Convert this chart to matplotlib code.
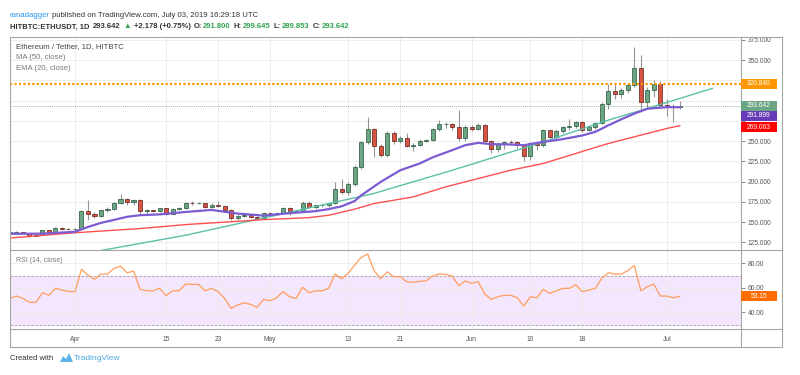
import numpy as np
import pandas as pd
import matplotlib
matplotlib.use("Agg")
import matplotlib.pyplot as plt
import matplotlib.dates as mdates
from matplotlib.patches import Rectangle, Polygon
from matplotlib.lines import Line2D

plt.rcParams['font.family'] = ['Liberation Sans', 'DejaVu Sans']

# daily candles ETH/USDT (HitBTC), 2019-03-22 .. 2019-07-03
dates = pd.date_range('2019-03-22', '2019-07-03', freq='D')

opens = [137.0, 136.5, 137.6, 136.4, 133.0, 134.1, 139.6, 138.0, 143.1, 141.8,
         141.0, 141.6, 163.5, 159.6, 157.4, 164.6, 166.0, 174.0, 179.0, 174.2,
         177.0, 163.8, 164.4, 163.6, 167.2, 160.5, 166.2, 166.8, 174.0, 173.2,
         173.6, 168.2, 171.0, 170.2, 165.2, 155.0, 158.0, 158.4, 156.6, 155.2,
         161.6, 160.6, 161.8, 167.7, 163.2, 163.8, 173.4, 168.8, 170.6, 170.9,
         173.2, 191.0, 187.2, 196.8, 218.2, 248.4, 264.5, 244.0, 232.8, 260.0,
         250.2, 254.4, 244.2, 245.2, 250.2, 251.6, 264.6, 271.2, 271.6, 268.0,
         254.4, 268.0, 264.4, 270.2, 250.4, 240.8, 247.0, 249.0, 248.6, 244.8,
         231.6, 247.2, 244.8, 263.2, 255.2, 263.0, 267.8, 268.4, 273.6, 263.8,
         268.0, 272.0, 296.2, 311.6, 308.8, 313.4, 319.2, 340.0, 298.6, 313.4,
         320.4, 294.8, 292.8, 291.8]
highs = [138.5, 138.5, 138.2, 137.0, 134.8, 140.5, 140.4, 143.8, 144.5, 142.3,
         142.8, 164.8, 177.0, 162.0, 165.5, 168.5, 175.0, 185.0, 179.8, 178.5,
         178.0, 166.0, 165.5, 167.8, 168.0, 167.0, 168.5, 175.0, 175.5, 175.0,
         174.0, 173.0, 176.5, 171.0, 166.5, 159.5, 159.5, 159.0, 158.0, 162.5,
         162.5, 163.0, 169.0, 168.5, 165.5, 176.0, 175.5, 171.5, 172.0, 174.0,
         200.0, 203.0, 199.0, 220.5, 250.0, 280.0, 266.0, 246.5, 263.0, 262.0,
         256.5, 260.0, 247.5, 252.5, 253.0, 266.0, 276.0, 274.0, 273.0, 288.0,
         270.0, 270.5, 272.5, 271.0, 251.0, 248.5, 250.5, 252.0, 250.0, 246.0,
         248.5, 249.0, 264.5, 264.0, 264.5, 269.0, 277.5, 275.5, 275.0, 270.0,
         273.5, 298.0, 320.5, 322.0, 315.5, 321.0, 366.7, 356.8, 316.5, 326.0,
         324.5, 302.5, 295.8, 299.645]
lows = [135.5, 135.8, 135.9, 131.8, 132.2, 133.5, 137.2, 137.4, 140.8, 140.2,
        139.8, 141.0, 153.0, 154.5, 156.8, 163.0, 165.2, 172.0, 171.5, 171.0,
        160.5, 160.2, 162.5, 162.0, 159.0, 159.8, 164.5, 166.0, 171.5, 171.8,
        167.0, 167.5, 169.0, 164.0, 152.5, 152.0, 156.5, 155.5, 153.8, 154.8,
        159.5, 159.8, 160.5, 159.0, 162.0, 163.0, 167.0, 166.0, 169.0, 168.5,
        172.0, 185.0, 184.0, 194.0, 215.5, 246.0, 231.0, 230.5, 231.0, 246.0,
        248.0, 243.0, 238.0, 243.5, 248.5, 250.5, 263.0, 266.5, 264.0, 250.0,
        250.5, 262.0, 263.5, 249.0, 235.0, 237.0, 240.0, 245.0, 242.0, 226.0,
        226.5, 238.5, 242.5, 253.5, 253.0, 260.5, 263.5, 266.5, 261.0, 262.5,
        265.5, 271.0, 290.0, 302.0, 303.0, 309.5, 316.5, 286.0, 291.0, 305.0,
        291.5, 281.5, 274.0, 289.853]
closes = [137.0, 137.6, 136.4, 133.0, 134.1, 139.6, 138.0, 143.1, 141.8, 141.0,
          141.6, 163.5, 159.6, 157.4, 164.6, 166.0, 174.0, 179.0, 174.2, 177.0,
          163.8, 164.4, 163.6, 167.2, 160.5, 166.2, 166.8, 174.0, 173.2, 173.6,
          168.2, 171.0, 170.2, 165.2, 155.0, 158.0, 158.4, 156.6, 155.2, 161.6,
          160.6, 161.8, 167.7, 163.2, 163.8, 173.4, 168.8, 170.6, 170.9, 173.2,
          191.0, 187.2, 196.8, 218.2, 248.4, 264.5, 244.0, 232.8, 260.0, 250.2,
          254.4, 244.2, 245.2, 250.2, 251.6, 264.6, 271.2, 271.6, 268.0, 254.4,
          268.0, 264.4, 270.2, 250.4, 240.8, 247.0, 249.0, 248.6, 244.8, 231.6,
          247.2, 244.8, 263.2, 255.2, 263.0, 267.8, 268.4, 273.6, 263.8, 268.0,
          272.0, 296.2, 311.6, 308.8, 313.4, 319.2, 340.0, 298.6, 313.4, 320.4,
          294.8, 292.8, 291.8, 293.642]

rsi = [51.4, 53.3, 51.4, 48.2, 48.2, 56.0, 54.1, 59.6, 58.2, 57.1,
       56.9, 75.1, 70.4, 66.9, 71.3, 71.3, 75.9, 77.8, 72.3, 73.7,
       58.8, 57.6, 57.6, 59.6, 53.6, 57.6, 57.6, 63.1, 62.8, 62.8,
       57.6, 59.6, 56.9, 51.4, 43.3, 46.0, 47.8, 46.5, 44.1, 50.6,
       49.5, 51.9, 56.9, 52.7, 51.4, 60.4, 56.0, 57.6, 57.6, 59.6,
       71.3, 67.4, 71.8, 78.6, 84.9, 87.6, 74.0, 67.4, 73.1, 69.1,
       69.1, 65.0, 64.5, 65.3, 65.8, 69.6, 71.3, 71.0, 69.6, 61.7,
       65.6, 63.7, 65.0, 54.9, 50.6, 52.7, 53.9, 53.9, 52.0, 45.1,
       52.7, 51.9, 58.8, 55.5, 57.6, 59.6, 59.6, 62.5, 56.9, 58.2,
       59.6, 67.8, 72.3, 71.3, 71.3, 74.0, 78.4, 57.6, 60.9, 63.1,
       53.3, 53.3, 51.9, 53.15]

# indicator lines
ema_dates = ['2019-03-22', '2019-03-27', '2019-04-01', '2019-04-03', '2019-04-05',
             '2019-04-09', '2019-04-11', '2019-04-14', '2019-04-18', '2019-04-22',
             '2019-04-26', '2019-04-30', '2019-05-04', '2019-05-08', '2019-05-10',
             '2019-05-12', '2019-05-14', '2019-05-15', '2019-05-18', '2019-05-21',
             '2019-05-24', '2019-05-26', '2019-05-29', '2019-05-31', '2019-06-02',
             '2019-06-04', '2019-06-07', '2019-06-09', '2019-06-12', '2019-06-15',
             '2019-06-18', '2019-06-20', '2019-06-22', '2019-06-24', '2019-06-26',
             '2019-06-28', '2019-07-01', '2019-07-03']
ema_vals = [135.5, 135.7, 138.0, 144.0, 149.0, 156.5, 158.5, 159.5, 162.5, 165.0,
            160.5, 158.0, 161.0, 163.5, 166.0, 169.5, 176.0, 183.0, 199.6, 214.0,
            222.4, 230.0, 238.9, 245.0, 247.9, 246.3, 245.9, 245.0, 249.0, 252.5,
            257.0, 261.5, 269.5, 277.0, 284.0, 290.0, 292.0, 291.9]

ma_dates = ['2019-03-22', '2019-04-01', '2019-04-11', '2019-04-18', '2019-04-30',
            '2019-05-07', '2019-05-10', '2019-05-14', '2019-05-17', '2019-05-23',
            '2019-05-28', '2019-06-02', '2019-06-07', '2019-06-12', '2019-06-17',
            '2019-06-22', '2019-06-28', '2019-07-01', '2019-07-03']
ma_vals = [130.3, 136.8, 142.0, 146.9, 153.0, 155.5, 158.4, 166.0, 172.9, 181.1,
           193.5, 203.8, 214.1, 222.4, 234.8, 247.1, 259.5, 265.7, 269.1]

trend_dates = ['2019-04-03', '2019-04-18', '2019-04-30', '2019-05-14', '2019-05-17',
               '2019-05-29', '2019-06-12', '2019-06-22', '2019-06-28', '2019-07-08']
trend_vals = [112.0, 133.7, 155.0, 180.0, 185.5, 214.0, 249.0, 276.0, 290.4, 315.2]

resistance = 320.840
last_close = 293.642
ema_last = 291.899
ma_last = 269.063

price_ticks = [125, 150, 175, 200, 225, 250, 275, 300, 325, 350, 375]
# 275 / 300 / 325 sit under the price tags in the screenshot
price_labels = ['125.000', '150.000', '175.000', '200.000', '225.000', '250.000',
                '', '', '', '350.000', '375.000']

tick_dates = ['2019-04-01', '2019-04-15', '2019-04-23', '2019-05-01', '2019-05-13',
              '2019-05-21', '2019-06-01', '2019-06-10', '2019-06-18', '2019-07-01']
tick_labels = ['Apr', '15', '23', 'May', '13', '21', 'Jun', '10', '18', 'Jul']

W, H = 800, 375
UP, DOWN = '#6ba583', '#d75442'
GRID = '#ededed'
LINE = '#a5a5a5'


def fbox(x0, y0, x1, y1):
    return [x0 / W, 1 - y1 / H, (x1 - x0) / W, (y1 - y0) / H]


def fx(x):
    return x / W


def fy(y):
    return 1 - y / H


fig = plt.figure(figsize=(8, 3.75), dpi=100)
ax = fig.add_axes(fbox(10, 36.5, 741, 250))
ax_rsi = fig.add_axes(fbox(10, 250, 741, 329), sharex=ax)

x = mdates.date2num(dates)
o = np.array(opens)
c = np.array(closes)
up = c >= o
body_h = np.maximum(np.abs(c - o), 0.6)
body_b = np.minimum(o, c)

ax.vlines(x, lows, highs, color='#959595', lw=0.8, zorder=2)
ax.bar(x[up], body_h[up], bottom=body_b[up], width=0.62, color=UP,
       edgecolor='#225437', lw=0.5, zorder=3)
ax.bar(x[~up], body_h[~up], bottom=body_b[~up], width=0.62, color=DOWN,
       edgecolor='#5b1a13', lw=0.5, zorder=3)

ax.plot(mdates.date2num(pd.to_datetime(trend_dates)), trend_vals, color='#5cbfa9', lw=1.0, zorder=4)
ax.plot(mdates.date2num(pd.to_datetime(ma_dates)), ma_vals, color='#ff5050', lw=1.0, zorder=4)
ax.plot(mdates.date2num(pd.to_datetime(ema_dates)), ema_vals, color='#7c5bd3', lw=1.6, zorder=5)

ax.axhline(resistance, color='#ff9800', lw=1.6, ls=(0, (1, 1)), zorder=4)
ax.axhline(last_close, color=UP, lw=0.6, ls=(0, (1, 1.5)), zorder=4)

apr1 = mdates.date2num(pd.Timestamp('2019-04-01'))
ax.set_xlim(apr1 - 9.99, apr1 + 102.4)
ax.set_ylim(115.5, 379.3)

ticks_x = mdates.date2num(pd.to_datetime(tick_dates))
ax_rsi.set_xticks(ticks_x, tick_labels)

ax.set_yticks(price_ticks)
ax.set_yticklabels(price_labels)
ax.yaxis.tick_right()
ax.tick_params(axis='y', direction='out', length=3, width=0.6, color='#777',
               pad=2, labelsize=4.8, labelcolor='#555')
ax.tick_params(axis='x', length=0, labelbottom=False)
ax.grid(True, color=GRID, lw=0.7)
ax.set_axisbelow(True)

# RSI panel
ax_rsi.axhspan(30, 70, color='#f3e6fd', zorder=0)
ax_rsi.axhline(70, color='#a0a0a0', lw=0.6, ls=(0, (3, 2)), zorder=1)
ax_rsi.axhline(30, color='#a0a0a0', lw=0.6, ls=(0, (3, 2)), zorder=1)
ax_rsi.plot(x, rsi, color='#ff9d5c', lw=0.9, zorder=3)
ax_rsi.set_ylim(26.4, 90.9)
ax_rsi.set_yticks([40, 60, 80])
ax_rsi.set_yticklabels(['40.00', '60.00', '80.00'])
ax_rsi.yaxis.tick_right()
ax_rsi.tick_params(axis='y', direction='out', length=3, width=0.6, color='#777',
                   pad=2, labelsize=4.8, labelcolor='#555')
ax_rsi.tick_params(axis='x', length=0, pad=5, labelsize=4.8, labelcolor='#555')
ax_rsi.grid(True, color=GRID, lw=0.7)
ax_rsi.set_axisbelow(True)

for a in (ax, ax_rsi):
    for s in a.spines.values():
        s.set_visible(False)

# frame and separators
frame = [((10, 782), (36.5, 36.5)), ((10, 782), (346.7, 346.7)),
         ((10, 10), (36.5, 346.7)), ((782, 782), (36.5, 346.7)),
         ((741, 741), (36.5, 346.7)), ((10, 782), (250, 250)),
         ((10, 782), (329, 329))]
for (xs, ys) in frame:
    fig.add_artist(Line2D([fx(xs[0]), fx(xs[1])], [fy(ys[0]), fy(ys[1])],
                          transform=fig.transFigure, color=LINE, lw=0.8))


def tag(axis, val, label, color, shift=0.0):
    yd = axis.transData.transform((apr1, val))[1] - shift
    h = 10.0
    fig.add_artist(Rectangle((fx(741), (yd - h / 2) / H), 36 / W, h / H,
                             transform=fig.transFigure, facecolor=color,
                             edgecolor='none', zorder=5))
    fig.text(fx(759), yd / H, label, color='white', fontsize=4.8,
             ha='center', va='center', zorder=6)


tag(ax, resistance, '%.3f' % resistance, '#ff9800')
tag(ax, last_close, '%.3f' % last_close, UP)
tag(ax, ema_last, '%.3f' % ema_last, '#673ab7', shift=8.6)
tag(ax, ma_last, '%.3f' % ma_last, '#ff0000', shift=1.5)
tag(ax_rsi, rsi[-1], '%.2f' % rsi[-1], '#ff6d00')

# legends inside panes
fig.text(fx(16), fy(46.5), 'Ethereum / Tether, 1D, HITBTC', fontsize=5.6,
         color='#444', va='center')
fig.text(fx(16), fy(57.5), 'MA (50, close)', fontsize=5.6, color='#777', va='center')
fig.text(fx(16), fy(68.5), 'EMA (20, close)', fontsize=5.6, color='#777', va='center')
fig.text(fx(16), fy(260.5), 'RSI (14, close)', fontsize=5.0, color='#777', va='center')

# header
renderer = fig.canvas.get_renderer()


def seq_text(x0, y0, parts, size):
    xp = x0
    for s, col, wt, gap in parts:
        t = fig.text(fx(xp), fy(y0), s, color=col, fontweight=wt, fontsize=size,
                     va='center', ha='left')
        xp += t.get_window_extent(renderer=renderer).width + gap


DARK = '#333333'
GRN = '#2fa24f'
seq_text(10, 15.5, [('ranadagger', '#2196f3', 'normal', 2.2),
                    ('published on TradingView.com, July 03, 2019 16:29:18 UTC', DARK, 'normal', 0)], 5.6)
seq_text(10, 27, [('HITBTC:ETHUSDT, 1D', DARK, 'bold', 3.5),
                  ('293.642', DARK, 'bold', 3.0),
                  ('\u25b2', GRN, 'normal', 2.5),
                  ('+2.178 (+0.75%)', DARK, 'bold', 3.0),
                  ('O:', DARK, 'bold', 1.0), ('291.800', GRN, 'bold', 3.0),
                  ('H:', DARK, 'bold', 1.0), ('299.645', GRN, 'bold', 3.0),
                  ('L:', DARK, 'bold', 1.0), ('289.853', GRN, 'bold', 3.0),
                  ('C:', DARK, 'bold', 1.0), ('293.642', GRN, 'bold', 0)], 5.5)

# footer
fig.text(fx(10), fy(358), 'Created with', fontsize=5.5, color=DARK, va='center')
logo = [(60, 362), (63, 356), (66, 359), (69, 353), (73, 362)]
fig.add_artist(Polygon([(fx(a), fy(b)) for a, b in logo], closed=True,
                       transform=fig.transFigure, facecolor='#5ab4ea', edgecolor='none'))
fig.text(fx(74), fy(358), 'TradingView', fontsize=6, color='#4aa8e0', va='center')

fig.savefig('out.png', dpi=100, facecolor='white')
